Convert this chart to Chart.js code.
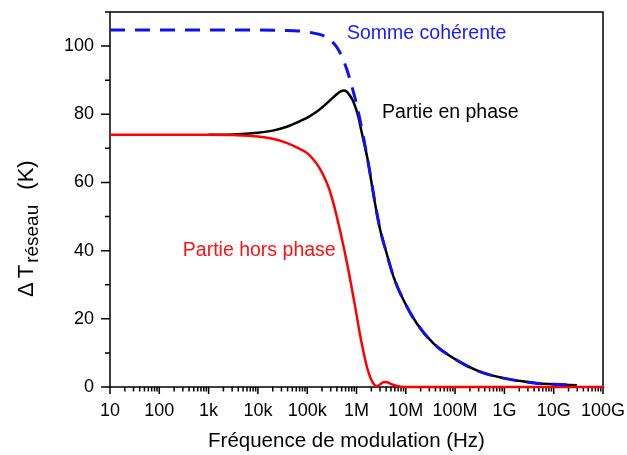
<!DOCTYPE html>
<html>
<head>
<meta charset="utf-8">
<script src="https://cdn.jsdelivr.net/npm/chart.js@4/dist/chart.umd.min.js"></script>
<style>
  html, body { margin: 0; padding: 0; background: #fff; }
  #wrap { width: 627px; height: 455px; position: relative; }
</style>
</head>
<body>
<div id="wrap"><canvas id="c"></canvas></div>
<script>
// Frequency axis: decades from 10 Hz to 100 GHz
const tickValues = [1e1, 1e2, 1e3, 1e4, 1e5, 1e6, 1e7, 1e8, 1e9, 1e10, 1e11];
const tickLabels = ['10', '100', '1k', '10k', '100k', '1M', '10M', '100M', '1G', '10G', '100G'];
const yTicks = [0, 20, 40, 60, 80, 100];

// Out-of-phase component (K)
const horsPhaseFreq = [10, 1000, 3162, 1e4, 2e4, 3.8e4, 6.3e4, 1e5, 1.41e5, 1.82e5, 2.4e5, 2.88e5,
  3.39e5, 3.98e5, 4.79e5, 5.89e5, 7.08e5, 8.71e5, 1e6, 1.17e6, 1.38e6, 1.62e6, 1.86e6, 2.14e6, 2.4e6,
  2.63e6, 3.02e6, 3.63e6, 4.17e6, 5.01e6, 6.31e6, 7.94e6, 1e7, 1e8, 1e9, 1e10, 1e11];
const horsPhase = [74, 74, 73.9, 73.5, 72.8, 71.6, 70.2, 68.6, 66.3, 64.0, 60.5, 57.5,
  54.0, 50.0, 45.0, 39.0, 33.2, 26.2, 21.3, 15.6, 10.4, 6.0, 3.2, 1.3, 0.35,
  0.2, 0.8, 1.45, 1.4, 0.9, 0.35, 0.1, 0, 0, 0, 0, 0];

// In-phase component (K)
const enPhaseFreq = [1000, 3162, 1e4, 2e4, 3.98e4, 6.31e4, 1e5, 1.58e5, 2.24e5, 3.16e5, 3.98e5, 4.79e5,
  5.5e5, 6.31e5, 7.24e5, 8.32e5, 9.55e5, 1.1e6, 1.26e6, 1.48e6, 1.7e6, 1.86e6, 2.4e6, 3.02e6, 4.07e6,
  5.62e6, 8.91e6, 1.66e7, 3.63e7, 1.07e8, 3.16e8, 9.55e8, 2e9, 4.47e9, 1e10, 2.95e10];
const enPhase = [74.0, 74.1, 74.6, 75.2, 76.4, 77.6, 79.0, 80.8, 82.6, 84.6, 85.9, 86.7,
  87.0, 86.7, 85.6, 84.2, 82.0, 79.0, 75.0, 70.6, 66.4, 63.0, 53.5, 46.1, 39.3,
  32.4, 25.6, 18.7, 12.8, 7.9, 4.5, 2.6, 1.8, 1.1, 0.8, 0.5];

// Coherent sum (K)
const sommeFreq = [10, 1000, 1e4, 3.16e4, 7.08e4, 1.26e5, 2e5, 2.82e5, 3.55e5, 4.27e5, 5.01e5, 5.89e5,
  6.92e5, 7.94e5, 9.12e5, 1.05e6, 1.2e6, 1.38e6, 1.62e6, 1.86e6, 2.4e6, 3.02e6, 4.07e6, 5.62e6, 8.91e6,
  1.66e7, 3.63e7, 1.07e8, 3.16e8, 9.55e8, 2e9, 4.47e9, 1e10, 2.95e10];
const somme = [104.7, 104.7, 104.7, 104.6, 104.4, 103.9, 103.2, 102.0, 100.6, 99.0, 97.0, 94.5,
  91.5, 88.5, 85.3, 81.8, 77.8, 73.3, 68.0, 63.2, 53.6, 46.2, 39.3, 32.4, 25.6,
  18.7, 12.8, 7.9, 4.5, 2.6, 1.8, 1.1, 0.8, 0.5];

const FONT = "'Liberation Sans', Arial, Helvetica, sans-serif";

const toPoints = (xs, ys) => xs.map((x, i) => ({ x, y: ys[i] }));

// Box frame, outward major/minor ticks, curve captions and axis titles
const decorations = {
  id: 'decorations',
  beforeDatasetsDraw(chart) {
    const { ctx, chartArea: a, scales: { x, y } } = chart;
    ctx.save();
    ctx.strokeStyle = '#000';
    ctx.lineWidth = 1.5;
    ctx.strokeRect(a.left, a.top, a.right - a.left, a.bottom - a.top);
    ctx.beginPath();
    // x ticks: decades long, 2..9 short
    for (let d = 0; d < tickValues.length; d++) {
      const base = tickValues[d];
      const px = x.getPixelForValue(base);
      ctx.moveTo(px, a.bottom);
      ctx.lineTo(px, a.bottom + 7);
      if (d < tickValues.length - 1) {
        for (let m = 2; m <= 9; m++) {
          const mx = x.getPixelForValue(base * m);
          ctx.moveTo(mx, a.bottom);
          ctx.lineTo(mx, a.bottom + 4.5);
        }
      }
    }
    // y ticks: every 20 long, odd tens short
    for (let v = 0; v <= 110; v += 10) {
      const py = y.getPixelForValue(v);
      const len = (v % 20 === 0) ? 9 : 5;
      ctx.moveTo(a.left, py);
      ctx.lineTo(a.left - len, py);
    }
    ctx.stroke();
    ctx.restore();
  },
  afterDatasetsDraw(chart) {
    const { ctx, chartArea: a, scales: { x, y } } = chart;
    ctx.save();
    ctx.font = `19.5px ${FONT}`;
    ctx.textBaseline = 'alphabetic';
    ctx.textAlign = 'left';
    ctx.fillStyle = '#1a1aff';
    ctx.fillText('Somme cohérente', x.getPixelForValue(6.4e5), y.getPixelForValue(102.1));
    ctx.fillStyle = '#000';
    ctx.fillText('Partie en phase', x.getPixelForValue(3.3e6), y.getPixelForValue(78.9));
    ctx.fillStyle = '#ff1010';
    ctx.fillText('Partie hors phase', x.getPixelForValue(300), y.getPixelForValue(38.5));

    // x-axis title
    ctx.fillStyle = '#000';
    ctx.font = `20.5px ${FONT}`;
    ctx.textAlign = 'center';
    ctx.fillText('Fréquence de modulation (Hz)', (a.left + a.right) / 2 - 10, 447);

    // y-axis title with subscript, rotated
    ctx.textAlign = 'left';
    ctx.translate(33, 297);
    ctx.rotate(-Math.PI / 2);
    ctx.font = `22px ${FONT}`;
    ctx.fillText('Δ', 0, 0);
    let w = ctx.measureText('Δ').width + 4;
    ctx.fillText('T', w, 0);
    w += ctx.measureText('T').width + 2;
    ctx.font = `19px ${FONT}`;
    ctx.fillText('réseau', w, 5);
    w += ctx.measureText('réseau').width;
    ctx.font = `22px ${FONT}`;
    ctx.fillText(' (K)', w + 9, 0);
    ctx.restore();
  }
};

new Chart(document.getElementById('c'), {
  type: 'line',
  data: {
    datasets: [
      {
        label: 'Somme cohérente',
        data: toPoints(sommeFreq, somme),
        borderColor: '#0d12ee',
        borderWidth: 3,
        borderDash: [15, 10],
        order: 0
      },
      {
        label: 'Partie hors phase',
        data: toPoints(horsPhaseFreq, horsPhase),
        borderColor: '#ff0000',
        borderWidth: 2.5,
        order: 1
      },
      {
        label: 'Partie en phase',
        data: toPoints(enPhaseFreq, enPhase),
        borderColor: '#000000',
        borderWidth: 2.5,
        order: 2
      }
    ]
  },
  options: {
    responsive: true,
    maintainAspectRatio: false,
    animation: false,
    events: [],
    layout: { padding: { top: 12, right: 24, left: 0, bottom: 0 } },
    elements: {
      point: { radius: 0 },
      line: { cubicInterpolationMode: 'monotone', fill: false }
    },
    datasets: { line: { clip: { left: 0, top: 0, right: 0, bottom: 4 } } },
    plugins: { legend: { display: false }, tooltip: { enabled: false } },
    scales: {
      x: {
        type: 'logarithmic',
        min: 10,
        max: 1e11,
        grid: { display: false, drawTicks: false, tickLength: 0 },
        border: { display: false },
        afterBuildTicks(scale) { scale.ticks = tickValues.map(v => ({ value: v })); },
        afterFit(scale) {
          scale.height = 68;
          scale.paddingLeft = 0;
          scale.paddingRight = 0;
        },
        ticks: {
          autoSkip: false,
          maxRotation: 0,
          padding: 13,
          color: '#000',
          font: { family: FONT, size: 18 },
          callback: (v, i) => tickLabels[i]
        }
      },
      y: {
        type: 'linear',
        min: 0,
        max: 110,
        grid: { display: false, drawTicks: false, tickLength: 0 },
        border: { display: false },
        afterBuildTicks(scale) { scale.ticks = yTicks.map(v => ({ value: v })); },
        afterFit(scale) {
          scale.width = 110;
          scale.paddingTop = 0;
          scale.paddingBottom = 0;
        },
        ticks: {
          padding: 16,
          color: '#000',
          font: { family: FONT, size: 18 }
        }
      }
    }
  },
  plugins: [decorations]
});
</script>
</body>
</html>
